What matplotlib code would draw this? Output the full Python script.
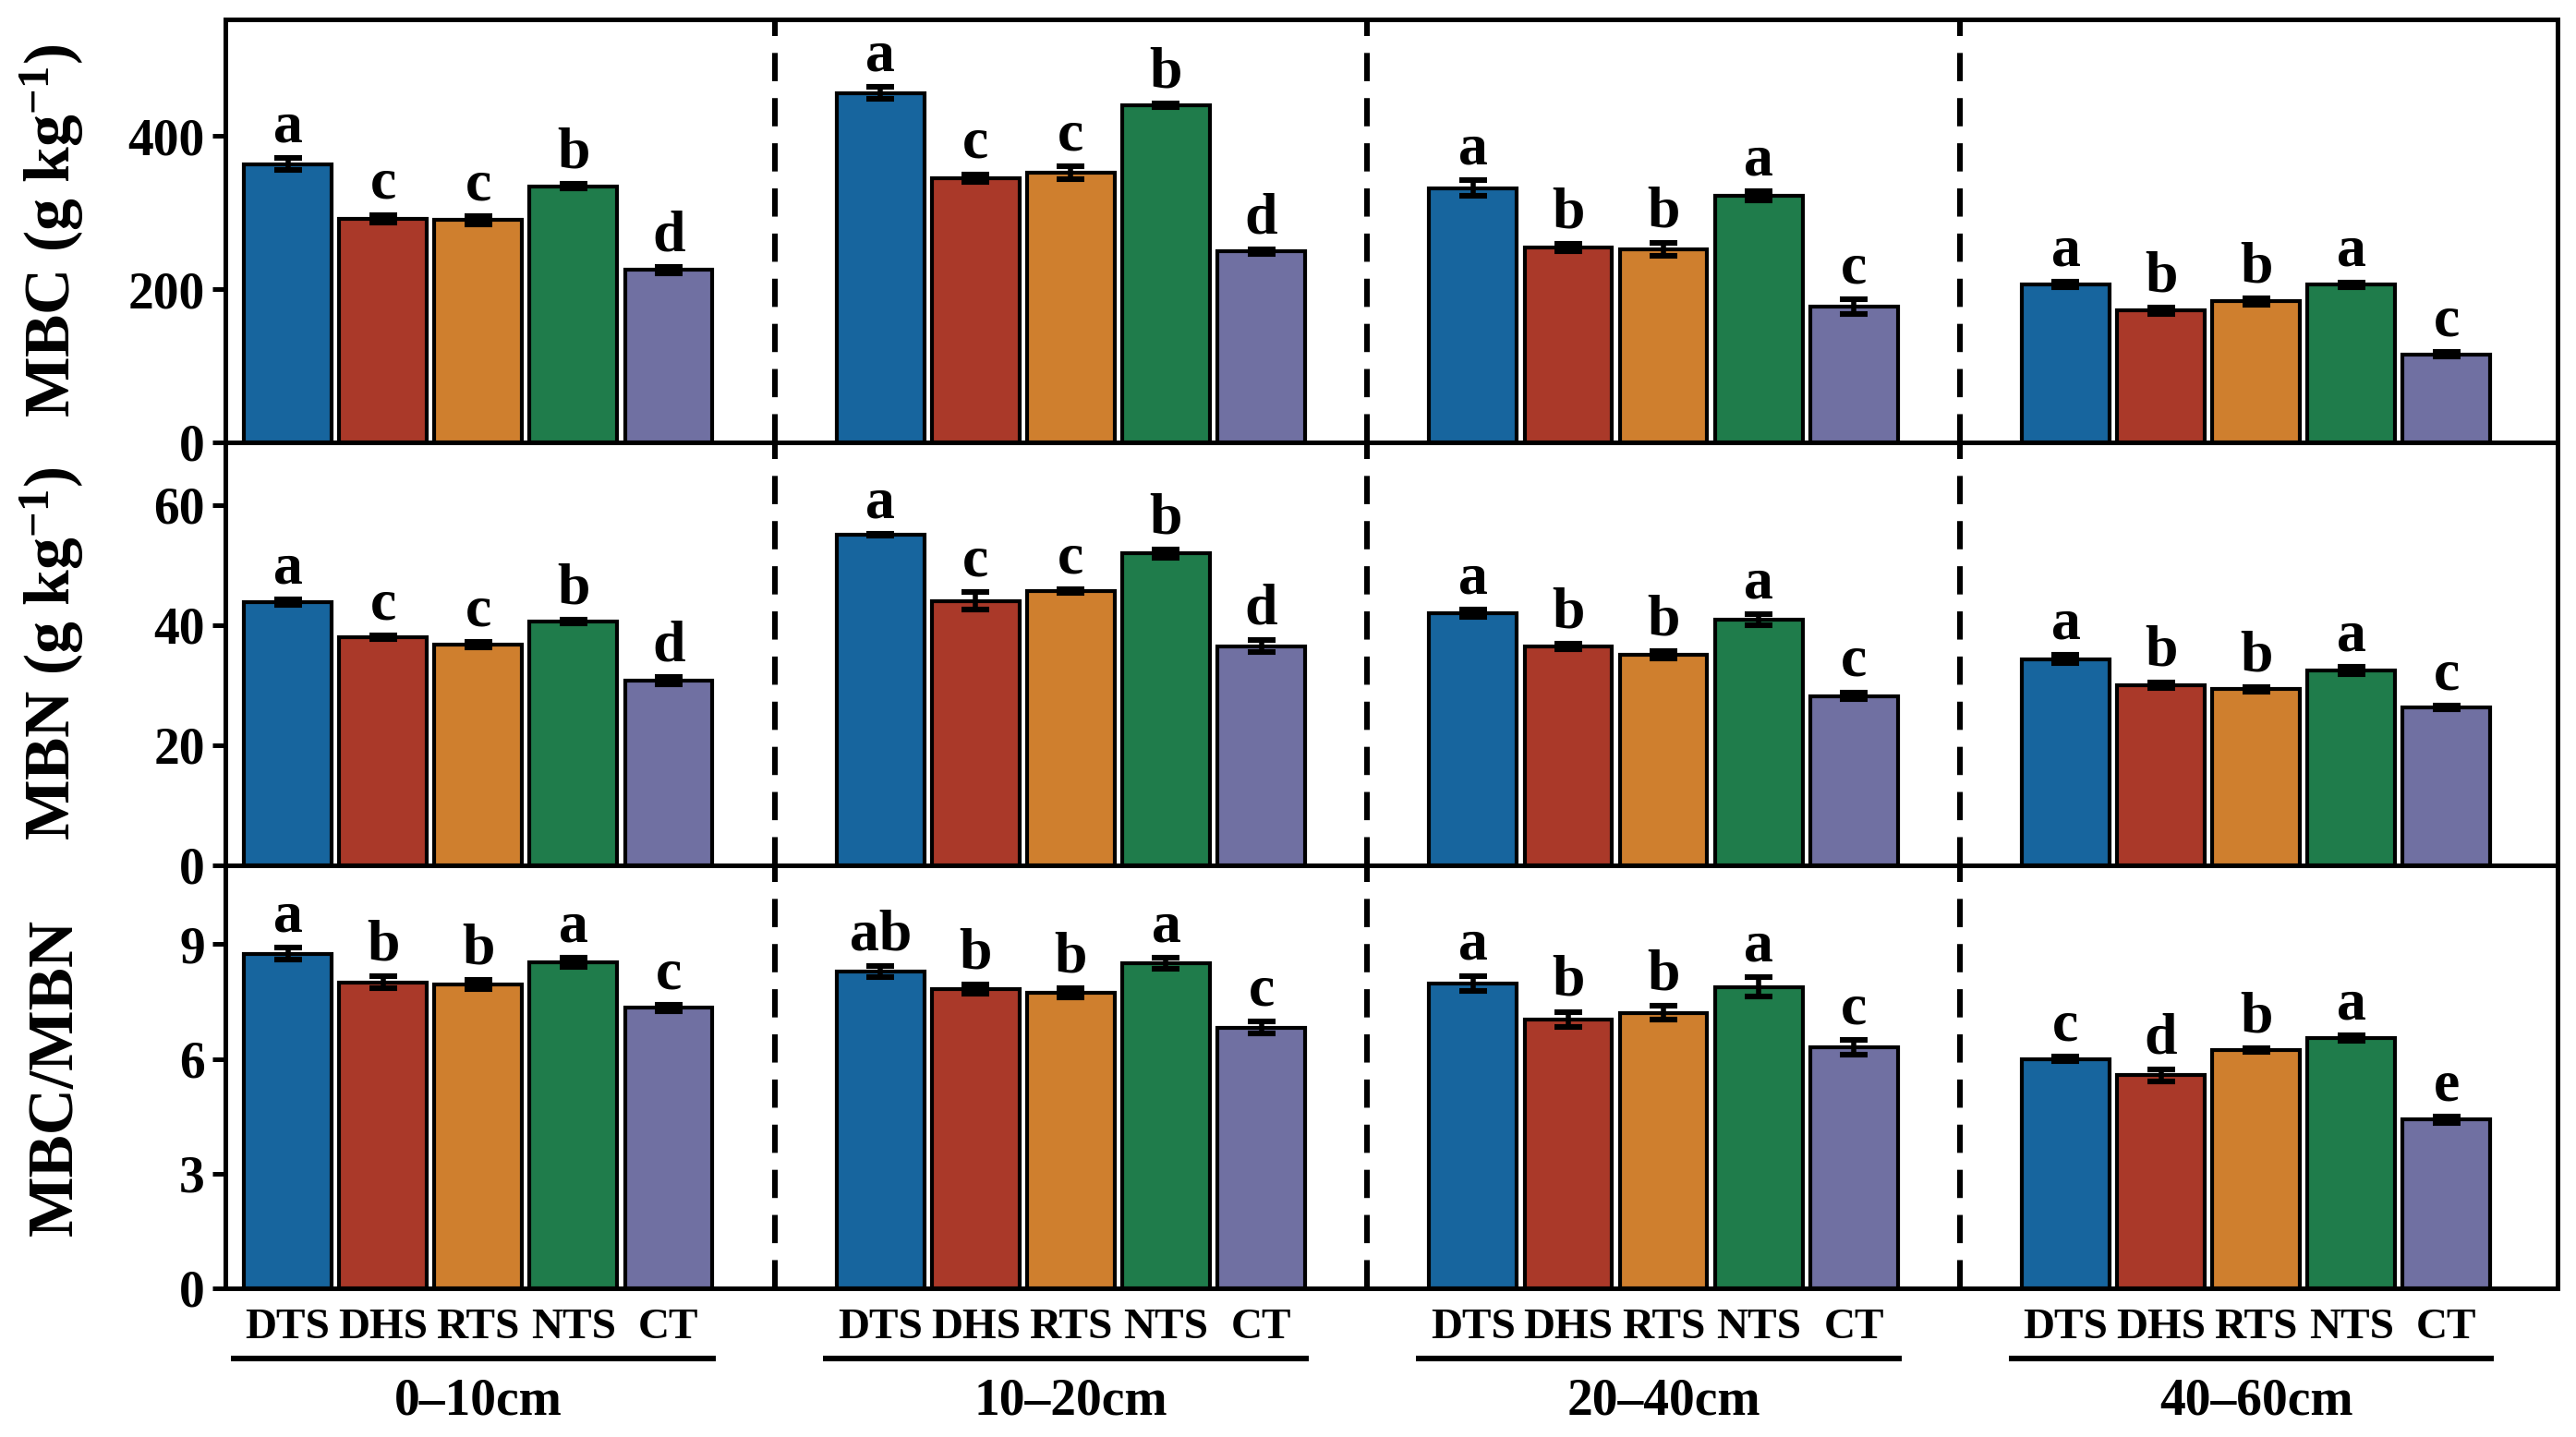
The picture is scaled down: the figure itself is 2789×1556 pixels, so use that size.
import numpy as np
import matplotlib
matplotlib.use('Agg')
import matplotlib.pyplot as plt
import matplotlib.transforms as mtransforms

plt.rcParams['font.family'] = 'Liberation Serif'
plt.rcParams['font.weight'] = 'bold'
plt.rcParams['mathtext.fontset'] = 'custom'
plt.rcParams['mathtext.rm'] = 'Liberation Serif:bold'
plt.rcParams['mathtext.bf'] = 'Liberation Serif:bold'
plt.rcParams['mathtext.default'] = 'bf'

# data
treatments = ['DTS', 'DHS', 'RTS', 'NTS', 'CT']
depths = ['0\u201310cm', '10\u201320cm', '20\u201340cm', '40\u201360cm']
colors = ['#17659e', '#aa3929', '#cf7f2e', '#1f7c4b', '#7070a2']

mbc = [[363, 292, 290, 334, 225],
       [456, 345, 352, 440, 249],
       [332, 254, 252, 322, 177],
       [206, 172, 184, 206, 115]]
mbc_err = [[8, 5, 5, 3, 4],
           [8, 5, 8, 2, 3],
           [10, 5, 8, 6, 10],
           [4, 4, 4, 3, 3]]
mbc_let = [['a', 'c', 'c', 'b', 'd'],
           ['a', 'c', 'c', 'b', 'd'],
           ['a', 'b', 'b', 'a', 'c'],
           ['a', 'b', 'b', 'a', 'c']]

mbn = [[43.8, 38.0, 36.7, 40.6, 30.8],
       [55.0, 44.0, 45.6, 51.9, 36.5],
       [41.9, 36.4, 35.0, 40.9, 28.2],
       [34.3, 30.0, 29.3, 32.4, 26.3]]
mbn_err = [[0.5, 0.3, 0.5, 0.3, 0.6],
           [0.2, 1.5, 0.3, 0.7, 1.0],
           [0.6, 0.5, 0.6, 0.9, 0.6],
           [0.7, 0.5, 0.4, 0.6, 0.3]]
mbn_let = [['a', 'c', 'c', 'b', 'd'],
           ['a', 'c', 'c', 'b', 'd'],
           ['a', 'b', 'b', 'a', 'c'],
           ['a', 'b', 'b', 'a', 'c']]

ratio = [[8.75, 8.00, 7.95, 8.52, 7.33],
         [8.28, 7.82, 7.72, 8.50, 6.82],
         [7.97, 7.03, 7.20, 7.88, 6.30],
         [6.00, 5.57, 6.22, 6.55, 4.41]]
ratio_err = [[0.15, 0.15, 0.12, 0.12, 0.08],
             [0.15, 0.12, 0.12, 0.15, 0.15],
             [0.20, 0.20, 0.18, 0.25, 0.20],
             [0.05, 0.15, 0.05, 0.07, 0.08]]
ratio_let = [['a', 'b', 'b', 'a', 'c'],
             ['ab', 'b', 'b', 'a', 'c'],
             ['a', 'b', 'b', 'a', 'c'],
             ['c', 'd', 'b', 'a', 'e']]

panels = [
    ('MBC (g kg$^{-1}$)', mbc, mbc_err, mbc_let, 552, [0, 200, 400]),
    ('MBN (g kg$^{-1}$)', mbn, mbn_err, mbn_let, 70.4, [0, 20, 40, 60]),
    ('MBC/MBN', ratio, ratio_err, ratio_let, 11.06, [0, 3, 6, 9]),
]

step = 6.224
width = 0.92

fig = plt.figure(figsize=(13.945, 7.78), dpi=200)
left, right, top, bottom = 0.0875, 0.993, 0.9865, 0.1035
h = (top - bottom) / 3
axes = []
for k in range(3):
    ax = fig.add_axes([left, top - (k + 1) * h, right - left, h])
    axes.append(ax)

for k, (lab, vals, errs, lets, ymax, ticks) in enumerate(panels):
    ax = axes[k]
    for g in range(4):
        xs = g * step + np.arange(5)
        ax.bar(xs, vals[g], width=width, color=colors, edgecolor='black',
               linewidth=1.5, zorder=2)
        ax.errorbar(xs, vals[g], yerr=errs[g], fmt='none', ecolor='black',
                    elinewidth=2, capsize=5.5, capthick=2.2, zorder=3)
        for i in range(5):
            ax.text(xs[i], vals[g][i] + errs[g][i] + ymax * 0.008, lets[g][i],
                    ha='center', va='bottom', fontsize=23, fontweight='bold')
    for g in range(3):
        ax.axvline(g * step + 4 + (step - 4) / 2, color='black', lw=2.2,
                   linestyle=(0, (5, 3)), zorder=1)
    ax.set_xlim(-0.655, 3 * step + 4 + 1.17)
    ax.set_ylim(0, ymax)
    ax.set_yticks(ticks)
    ax.tick_params(axis='y', direction='out', length=5, width=1.8,
                   labelsize=20, pad=3)
    ax.set_ylabel(lab, fontsize=25, fontweight='bold')
    ax.yaxis.set_label_coords(-0.06, 0.5)
    for s in ax.spines.values():
        s.set_linewidth(1.8)
    if k < 2:
        ax.set_xticks([])
    else:
        xt = [g * step + i for g in range(4) for i in range(5)]
        ax.set_xticks(xt)
        ax.set_xticklabels(treatments * 4)
        ax.tick_params(axis='x', length=0, labelsize=17, pad=8)

ax = axes[2]
trans = mtransforms.blended_transform_factory(ax.transData, ax.transAxes)
for g in range(4):
    x0 = g * step
    ax.plot([x0 - 0.6, x0 + 4.5], [-0.165, -0.165], color='black', lw=2.2,
            transform=trans, clip_on=False, solid_capstyle='butt')
    ax.text(x0 + 2, -0.21, depths[g], transform=trans, ha='center', va='top',
            fontsize=20, fontweight='bold')

fig.savefig('out.png', dpi=200)
